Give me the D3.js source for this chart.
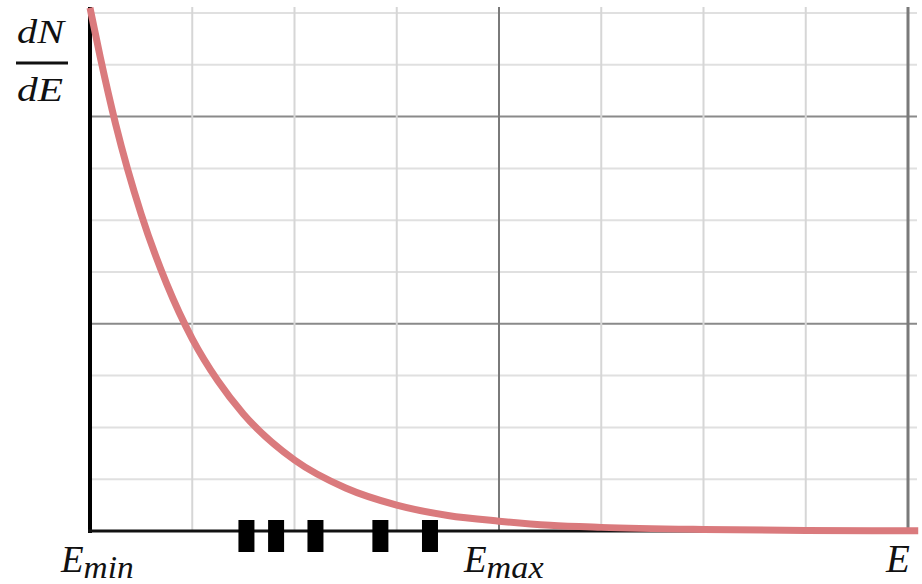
<!DOCTYPE html>
<html>
<head>
<meta charset="utf-8">
<script src="https://cdn.jsdelivr.net/npm/d3@7"></script>
<style>
  html, body { margin: 0; padding: 0; background: #fff; }
  svg { display: block; }
  .lbl { font-family: "Liberation Serif", "DejaVu Serif", serif; font-style: italic; fill: #111; }
</style>
</head>
<body>
<div id="chart"></div>
<script>
// energy in grid columns, spectrum height in grid rows
const energy = [0, 0.1, 0.25, 0.5, 0.75, 1, 1.25, 1.5, 2, 2.5, 3, 3.5, 4, 4.5, 5, 6, 7, 8.1];
const dNdE = [10.1, 9.15, 7.86, 6.12, 4.77, 3.71, 2.9, 2.26, 1.37, 0.83, 0.5, 0.3, 0.19, 0.11, 0.07, 0.03, 0.012, 0.005];
// measured events on the energy axis
const events = [1.53, 1.82, 2.205, 2.84, 3.325];
const xGrid = [1, 2, 3, 4, 5, 6, 7, 8];
const yGrid = [1, 2, 3, 4, 5, 6, 7, 8, 9, 10];
const majorEvery = 4;

const width = 922, height = 584;
const svg = d3.select("#chart").append("svg")
  .attr("width", width)
  .attr("height", height);

const x = d3.scaleLinear().domain([0, 8]).range([90, 908]);
const y = d3.scaleLinear().domain([0, 10]).range([531, 13]);

// grid
const grid = svg.append("g").attr("class", "grid");
grid.selectAll(".hline")
  .data(yGrid)
  .join("line")
  .attr("x1", x(0) - 2)
  .attr("x2", x(8) + 9)
  .attr("y1", d => y(d))
  .attr("y2", d => y(d))
  .attr("stroke", d => d % majorEvery === 0 ? "#8a8a8a" : "#e0e0e0")
  .attr("stroke-width", 2);

grid.selectAll(".vline")
  .data(xGrid)
  .join("line")
  .attr("x1", d => x(d))
  .attr("x2", d => x(d))
  .attr("y1", y(10) - 6)
  .attr("y2", y(0))
  .attr("stroke", d => d % majorEvery === 0 ? "#7a7a7a" : "#d6d6d6")
  .attr("stroke-width", d => d === 8 ? 3 : 2);

// axes
svg.append("line")
  .attr("x1", x(0)).attr("x2", x(0))
  .attr("y1", y(10) - 6).attr("y2", y(0) + 2)
  .attr("stroke", "#000").attr("stroke-width", 4);
svg.append("line")
  .attr("x1", x(0) - 2).attr("x2", x(8) + 9)
  .attr("y1", y(0)).attr("y2", y(0))
  .attr("stroke", "#111").attr("stroke-width", 3);

// spectrum curve
const line = d3.line()
  .x((d, i) => x(energy[i]))
  .y(d => y(d))
  .curve(d3.curveMonotoneX);

svg.append("path")
  .datum(dNdE)
  .attr("d", line)
  .attr("fill", "none")
  .attr("stroke", "#da7a7d")
  .attr("stroke-width", 7)
  .attr("stroke-linecap", "butt");

// event markers
svg.selectAll(".event")
  .data(events)
  .join("rect")
  .attr("class", "event")
  .attr("x", d => x(d) - 8)
  .attr("y", y(0) - 11)
  .attr("width", 16)
  .attr("height", 32)
  .attr("fill", "#000");

// y label: dN / dE
svg.append("text").attr("class", "lbl")
  .attr("x", 17).attr("y", 43)
  .attr("font-size", 33)
  .attr("textLength", 47).attr("lengthAdjust", "spacingAndGlyphs")
  .text("dN");
svg.append("line")
  .attr("x1", 16).attr("x2", 68)
  .attr("y1", 63).attr("y2", 63)
  .attr("stroke", "#111").attr("stroke-width", 3);
svg.append("text").attr("class", "lbl")
  .attr("x", 17).attr("y", 101)
  .attr("font-size", 33)
  .attr("textLength", 46).attr("lengthAdjust", "spacingAndGlyphs")
  .text("dE");

// x labels
function subLabel(px, base, sub, subLen) {
  const t = svg.append("text").attr("class", "lbl")
    .attr("x", px).attr("y", 572)
    .attr("font-size", 37);
  t.append("tspan").text(base);
  t.append("tspan")
    .attr("dy", 6)
    .attr("font-size", 32)
    .attr("textLength", subLen)
    .attr("lengthAdjust", "spacingAndGlyphs")
    .text(sub);
}
subLabel(61, "E", "min", 50);
subLabel(464, "E", "max", 57);

svg.append("text").attr("class", "lbl")
  .attr("x", 886).attr("y", 572)
  .attr("font-size", 39)
  .text("E");
</script>
</body>
</html>
